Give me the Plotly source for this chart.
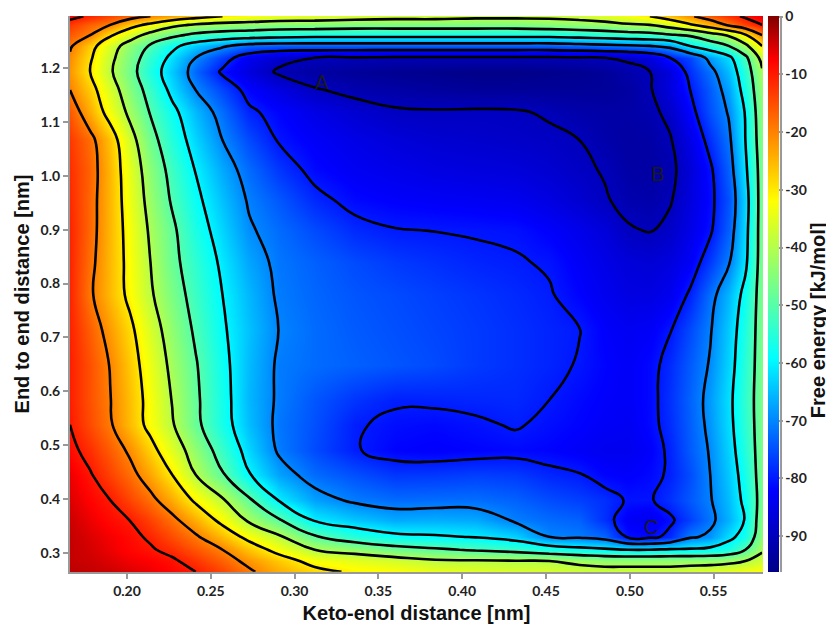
import plotly.graph_objects as go

# Keto-enol distance grid (nm), left -> right
x_nm = [0.166, 0.178, 0.190, 0.202, 0.214, 0.227, 0.241, 0.257, 0.273, 0.291, 0.312,
        0.336, 0.360, 0.384, 0.408, 0.432, 0.452, 0.470, 0.485, 0.499, 0.512, 0.524,
        0.536, 0.548, 0.559, 0.569, 0.579]

# End-to-end distance grid (nm), top -> bottom
y_nm = [1.296, 1.280, 1.261, 1.241, 1.219, 1.193, 1.159, 1.118, 1.066, 1.011, 0.955,
        0.899, 0.840, 0.779, 0.714, 0.649, 0.584, 0.538, 0.491, 0.445, 0.398, 0.361,
        0.330, 0.306, 0.285, 0.265]

# Free energy (kJ/mol), one row per y value (top -> bottom)
free_energy = [
    [-8, -11, -14, -17, -20, -23, -27, -30, -32, -34, -35, -36, -37, -37, -38, -38, -38, -37, -35, -33, -30, -26, -21, -16, -12, -9, -6],
    [-13, -17, -20, -27, -32, -38, -41, -43, -44, -45, -45, -46, -46, -46, -46, -46, -45, -44, -43, -41, -40, -36, -31, -25, -19, -14, -10],
    [-16, -20, -29, -36, -43, -48, -52, -54, -55, -56, -57, -57, -57, -57, -57, -57, -57, -56, -55, -54, -53, -51, -49, -44, -39, -31, -20],
    [-19, -27, -36, -44, -51, -58, -64, -69, -73, -74, -74, -74, -74, -74, -74, -74, -74, -73, -72, -71, -70, -68, -60, -55, -50, -42, -30],
    [-21, -29, -38, -46, -54, -62, -70, -77, -84, -88, -90, -90.5, -91, -91, -91, -91, -91, -90.5, -90, -89, -86, -80, -76, -68, -62, -52, -37],
    [-22, -30, -39, -47, -56, -64, -73, -81, -86, -91, -93, -94, -95, -95.5, -96, -96, -95.5, -95, -94, -92, -90, -86, -78, -72, -65, -55, -41],
    [-20, -27, -36, -45, -53, -62, -70, -76, -82, -85.5, -89.5, -91.5, -92.5, -93.5, -94, -94, -94, -94, -94, -93, -90.5, -86, -80, -74, -67.5, -57, -43],
    [-16, -24, -33, -42, -50.5, -58, -65.5, -72.5, -79, -82, -85, -87.5, -89.3, -89.5, -89.3, -89.5, -90.6, -92, -92.5, -92.5, -91.5, -88.5, -82, -75, -69.5, -59.5, -44],
    [-13, -18, -26, -37, -47, -55.5, -63, -70, -75.5, -80.5, -83, -85, -86.5, -87.5, -88, -88.5, -89, -90, -92, -93, -92.5, -90.5, -85, -78, -71.5, -60, -45],
    [-12, -17, -25, -34.7, -44.2, -52.6, -60.3, -67, -72.5, -77.3, -81.5, -83.5, -84.5, -85.5, -86, -86.5, -87.5, -89, -90.4, -92.5, -93, -91.5, -86.7, -81, -73.3, -61.5, -46],
    [-11.5, -17.4, -25, -33.8, -42.7, -50.9, -58.4, -64.9, -70.7, -74.3, -78.6, -81.5, -82.5, -83, -83.5, -84, -85.5, -87.5, -89.5, -91.5, -92, -90.5, -86, -81.5, -74.8, -63.3, -46],
    [-11, -17.5, -25, -32.9, -41.1, -48.5, -56.5, -63.1, -69.3, -72.5, -75.5, -78.5, -79.8, -80.1, -80.4, -80.8, -82.5, -84.5, -86.5, -89.5, -90.3, -88.5, -85, -80.8, -73.5, -62.5, -46],
    [-11, -18.2, -25.2, -32.3, -40, -47.8, -54.4, -61.3, -67.2, -71.5, -73.5, -75.5, -77, -78, -79, -79.6, -80.5, -83, -85, -86.5, -87, -86, -83, -77.1, -70.7, -61.5, -46],
    [-11, -19, -25.3, -31.8, -39, -46, -53, -60, -65.6, -71, -73, -74.5, -75.5, -76.5, -77.5, -78.5, -79.6, -82, -84, -85.5, -85.5, -84, -79.2, -72.2, -65.6, -57.8, -46],
    [-10.8, -16.5, -22.4, -28.5, -36, -43.8, -51.2, -59.1, -64.7, -70.2, -72.5, -74, -75, -76, -77, -78, -79, -79.9, -82.5, -83.5, -83, -80.3, -75.6, -70.5, -63.8, -56, -46],
    [-10.5, -15.2, -20.3, -26.8, -33.8, -41.9, -49.4, -58, -65.2, -71, -72.5, -73.5, -74.5, -75.5, -77, -78, -79, -80.3, -82, -83, -81.5, -78.4, -74, -69.5, -62.9, -55, -46],
    [-10.5, -15.3, -19.8, -25.8, -32.5, -40.3, -48.6, -57.3, -65.6, -71, -74.5, -77.5, -79.4, -79.2, -78.8, -78.6, -80, -81.5, -82.5, -83, -81.5, -77.8, -73.3, -68.2, -61.8, -54.1, -46],
    [-10, -14.7, -19.3, -25.5, -32.2, -39.3, -48.1, -57, -65, -71.5, -75, -79.5, -81, -81.5, -80.7, -79.6, -81, -82, -83, -83.5, -81.5, -78.2, -73.6, -68.6, -62.1, -54.5, -46],
    [-8.5, -12, -16.4, -21.2, -27.5, -35.2, -44, -53.6, -62.9, -71, -75.5, -79.6, -82, -82.5, -82, -81.5, -82, -83, -84, -84, -82.5, -79, -74, -69.5, -63, -55.5, -46],
    [-6.5, -9.5, -13.7, -18, -23.3, -30, -40, -49.3, -59.6, -67.4, -72.5, -75, -77.3, -77.1, -76.5, -77, -78.8, -79.7, -82, -82.5, -81.5, -79.3, -75.3, -70, -64, -57, -46],
    [-5.5, -7.8, -10, -14.1, -18.2, -23.9, -31.2, -39.1, -48.9, -60.6, -67.6, -71, -72.5, -72.3, -72.2, -73.4, -75.3, -76.5, -78, -80.5, -80.5, -77.8, -74.2, -70.5, -65, -58.2, -46.5],
    [-4.5, -6.5, -8.5, -10.1, -13.8, -18.3, -24.3, -32.1, -41.4, -49.4, -60.7, -64.2, -66.8, -66.4, -66.9, -70.8, -72.5, -73.4, -78, -83, -84.5, -81, -76.5, -71.6, -66, -59.5, -45],
    [-4, -5.5, -7, -8.5, -10.9, -14.8, -19.1, -25.4, -32.2, -38.9, -49.2, -55, -58.3, -59.2, -60.4, -63.1, -70.1, -71, -73, -81, -81.5, -78.5, -71, -68.8, -62, -57, -44],
    [-4, -5, -6.5, -8, -9.3, -11.8, -15.6, -20, -26.1, -32.5, -40, -43, -46.7, -48.8, -50.8, -52.7, -55.6, -57.5, -58.8, -60, -60, -59, -59, -58, -56, -50, -41],
    [-4, -4.5, -5.5, -6.8, -7.5, -9, -12.5, -16.9, -21.8, -26.7, -32.5, -34.7, -36.4, -38.9, -39.2, -39.6, -40, -41.7, -43.3, -43.3, -43.3, -43.3, -43, -43, -42, -40, -37],
    [-3.5, -4, -4.5, -5.5, -6.5, -8, -10, -14, -19, -24, -28, -31, -32, -34, -35, -36, -36, -37, -37, -37, -37, -37, -36, -35, -34, -33, -32],
]

# Contour levels (kJ/mol)
contour_start, contour_end, contour_step = -90, -10, 10

# Basin labels
basin_labels = ["A", "B", "C"]
basin_x = [0.3164, 0.5168, 0.5127]
basin_y = [1.1735, 1.0029, 0.348]

# Tick values
x_ticks = [0.20, 0.25, 0.30, 0.35, 0.40, 0.45, 0.50, 0.55]
y_ticks = [0.3, 0.4, 0.5, 0.6, 0.7, 0.8, 0.9, 1.0, 1.1, 1.2]
cbar_ticks = [0, -10, -20, -30, -40, -50, -60, -70, -80, -90]

# plotly wants ascending y; rows above are listed top -> bottom
y_asc = y_nm[::-1]
z_asc = free_energy[::-1]

colorscale = [
    [0.0, "rgb(0,0,135)"],
    [0.146, "rgb(0,0,255)"],
    [0.385, "rgb(0,255,255)"],
    [0.667, "rgb(255,255,0)"],
    [0.92, "rgb(255,0,0)"],
    [1.0, "rgb(128,0,0)"],
]

tick_font = dict(family="Lato", size=14, color="#222222", weight="bold")
title_font = dict(family="Liberation Sans", size=20, color="#111111", weight="bold")

fig = go.Figure()
fig.add_trace(go.Heatmap(
    x=x_nm, y=y_asc, z=z_asc, zsmooth="best",
    colorscale=colorscale, zmin=-96.2, zmax=0.1,
    hoverinfo="skip",
    colorbar=dict(
        x=1.0072, xanchor="left", xpad=0, y=0.5, yanchor="middle",
        len=1.0, lenmode="fraction", ypad=0, thickness=11, outlinewidth=0,
        tickvals=cbar_ticks, ticktext=[str(v) for v in cbar_ticks],
        ticks="outside", ticklen=4, tickwidth=1.5, tickcolor="#999999",
        tickfont=tick_font, ticklabeloverflow="allow",
        title=dict(text=""),
    ),
))
fig.add_trace(go.Contour(
    x=x_nm, y=y_asc, z=z_asc,
    contours=dict(start=contour_start, end=contour_end, size=contour_step, coloring="none"),
    line=dict(color="black", width=2.6, smoothing=1.3),
    showscale=False, hoverinfo="skip",
))

for lab, lx, ly in zip(basin_labels, basin_x, basin_y):
    fig.add_annotation(x=lx, y=ly, text=lab, showarrow=False,
                       font=dict(family="Liberation Sans", size=20, color="#1a1a1a"))

# colour bar title, rotated, placed like the original
fig.add_annotation(xref="paper", yref="paper", x=1.0794, y=0.453, text="Free energy [kJ/mol]",
                   textangle=-90, showarrow=False, xanchor="center", yanchor="middle",
                   font=title_font)

fig.add_shape(type="line", xref="paper", yref="paper", x0=1.026, x1=1.026, y0=0, y1=1,
              line=dict(color="#999999", width=2))

# the page body adds an 8 px offset, so the figure is sized to fit the window
fig.update_layout(
    width=826, height=623,
    margin=dict(l=62, r=71, t=8, b=59, autoexpand=False),
    paper_bgcolor="white", plot_bgcolor="white",
    showlegend=False,
    xaxis=dict(
        range=[0.166, 0.5795], tickvals=x_ticks, ticktext=[f"{v:.2f}" for v in x_ticks],
        ticks="outside", ticklen=5, tickwidth=1.5, tickcolor="#999999",
        showline=True, linecolor="#999999", linewidth=2, showgrid=False, zeroline=False,
        tickfont=tick_font,
        title=dict(text="Keto-enol distance [nm]", font=title_font, standoff=8),
    ),
    yaxis=dict(
        range=[0.2647, 1.2965], tickvals=y_ticks, ticktext=[f"{v:.1f}" for v in y_ticks],
        ticks="outside", ticklen=5, tickwidth=1.5, tickcolor="#999999",
        showline=True, linecolor="#999999", linewidth=2, showgrid=False, zeroline=False,
        tickfont=tick_font,
        title=dict(text="End to end distance [nm]", font=title_font, standoff=6),
    ),
)

fig.write_html("out.html")
